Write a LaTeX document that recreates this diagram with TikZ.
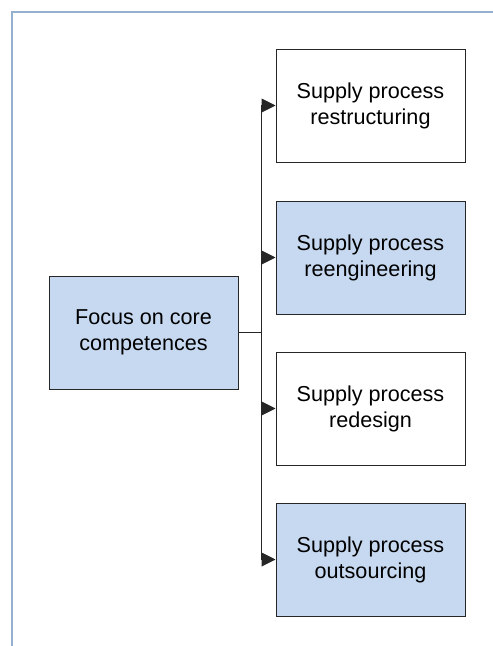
\documentclass[tikz,border=0pt]{standalone}
\usepackage{fontspec}
\setmainfont{Liberation Sans}
\usetikzlibrary{arrows.meta}
\definecolor{frameblue}{HTML}{95AFCF}
\definecolor{boxblue}{HTML}{C6D9F1}
\begin{document}
\begin{tikzpicture}[x=1pt,y=-1pt,
  box/.style={draw=black!85, line width=1pt, minimum width=189pt, minimum height=113pt,
    inner sep=0pt, align=center, font=\fontsize{21.6}{26}\selectfont},
  bluebox/.style={box, fill=boxblue},
  whitebox/.style={box, fill=white},
  link/.style={draw=black!85, line width=1pt},
  arr/.style={link, -{Triangle[length=14pt,width=14pt]}}]
  \useasboundingbox (0,0) rectangle (493,646);
  % outer frame (left and top edges only)
  \draw[frameblue, line width=1.8pt] (12,646) -- (12,12) -- (493,12);
  % source box
  \node[bluebox] (core) at (143.5,332.5) {Focus on core\\competences};
  % target boxes
  \node[whitebox] (restr) at (370.5,105.5) {Supply process\\restructuring};
  \node[bluebox]  (reeng) at (370.5,257.5) {Supply process\\reengineering};
  \node[whitebox] (redes) at (370.5,408.5) {Supply process\\redesign};
  \node[bluebox]  (outs)  at (370.5,559.5) {Supply process\\outsourcing};
  % trunk line
  \coordinate (hub) at (261,332.5);
  \coordinate (top) at (261,105.5);
  \coordinate (bot) at (261,559.5);
  \draw[link] (core.east) -- (hub);
  \draw[link] (top) -- (bot);
  \draw[arr] (top) -- (restr.west);
  \draw[arr] (261,257.5) -- (reeng.west);
  \draw[arr] (261,408.5) -- (redes.west);
  \draw[arr] (bot) -- (outs.west);
\end{tikzpicture}
\end{document}
